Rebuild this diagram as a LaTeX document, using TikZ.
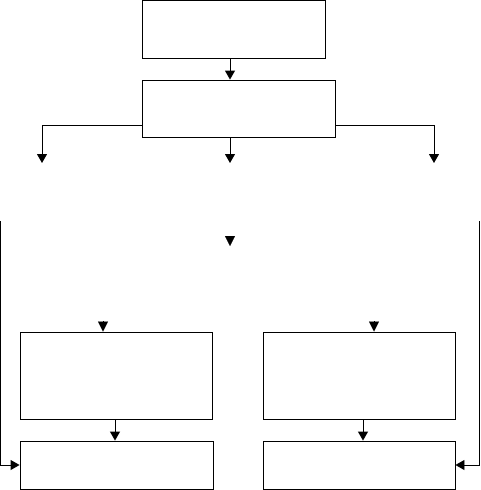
\documentclass[tikz,border=0pt]{standalone}
\usetikzlibrary{arrows.meta}
\begin{document}
\begin{tikzpicture}[x=1pt,y=-1pt,
  box/.style={draw,line width=0.9pt,minimum width=#1,inner sep=0pt},
  arr/.style={line width=0.9pt,-{Triangle[length=9pt,width=10pt]}},
  tip/.style={-{Triangle[length=10pt,width=10pt]},line width=0.1pt}]
\useasboundingbox (0,0) rectangle (480,490);
% boxes
\node[box=183pt,minimum height=57.5pt] (b1) at (233.5,29.25) {};
\node[box=193pt,minimum height=57pt] (b2) at (238.5,108.5) {};
\node[box=192pt,minimum height=87pt] (b3) at (116,375.5) {};
\node[box=192pt,minimum height=87pt] (b4) at (359,375.5) {};
\node[box=193pt,minimum height=48pt] (b5) at (116.5,465) {};
\node[box=192pt,minimum height=48pt] (b6) at (359,465) {};
% helper coordinates
\coordinate (m) at (230,0);
\coordinate (yb) at (0,125);
\coordinate (lb) at (42,163);
\coordinate (mb) at (230,163);
\coordinate (rb) at (434,163);
\coordinate (lt) at (0.5,221);
\coordinate (rt) at (479.5,221);
\coordinate (c3) at (115,0);
\coordinate (c4) at (363,0);
\coordinate (f1a) at (230,236);
\coordinate (f1b) at (230,246);
\coordinate (f2a) at (103,321);
\coordinate (f2b) at (103,331.5);
\coordinate (f3a) at (374,321);
\coordinate (f3b) at (374,331.5);
% connectors
\draw[arr] (b1.south -| m) -- (b2.north -| m);
\draw[arr] (b2.west |- yb) -| (lb);
\draw[arr] (b2.south -| m) -- (mb);
\draw[arr] (b2.east |- yb) -| (rb);
\draw[arr] (b3.south -| c3) -- (b5.north -| c3);
\draw[arr] (b4.south -| c4) -- (b6.north -| c4);
\draw[arr] (lt) |- (b5.west);
\draw[arr] (rt) |- (b6.east);
% floating arrowheads
\draw[tip] (f1a) -- (f1b);
\draw[tip] (f2a) -- (f2b);
\draw[tip] (f3a) -- (f3b);
\end{tikzpicture}
\end{document}
